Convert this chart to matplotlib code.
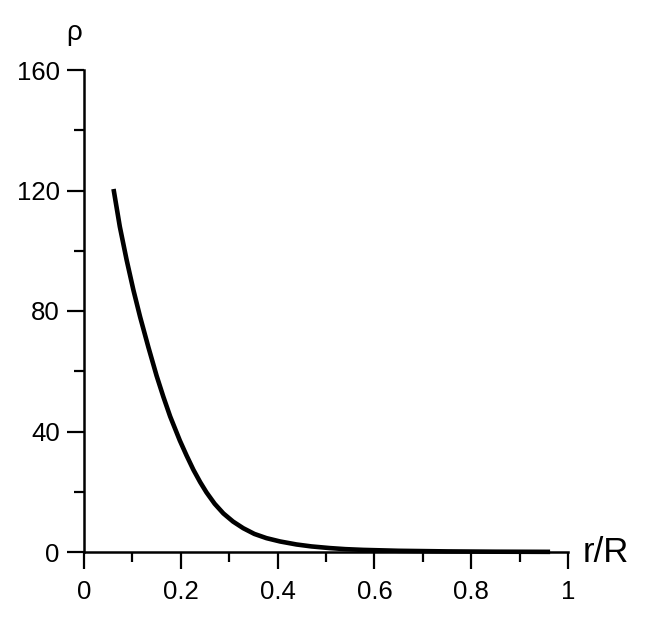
import matplotlib
matplotlib.use("Agg")
import matplotlib.pyplot as plt
from matplotlib.ticker import MultipleLocator

plt.rcParams['font.family'] = ['Liberation Sans', 'DejaVu Sans']

r_over_R = [0.061, 0.074, 0.088, 0.102, 0.116, 0.133, 0.150, 0.164, 0.178, 0.198,
            0.212, 0.226, 0.240, 0.253, 0.270, 0.288, 0.308, 0.329, 0.352, 0.377,
            0.405, 0.439, 0.470, 0.508, 0.540, 0.577, 0.650, 0.750, 0.850, 0.963]
rho = [120.5, 108.0, 97.0, 87.0, 78.0, 68.0, 58.5, 51.5, 45.0, 37.0,
       32.0, 27.3, 23.2, 19.8, 16.0, 12.8, 10.1, 7.9, 6.0, 4.6,
       3.5, 2.5, 1.85, 1.3, 0.95, 0.7, 0.4, 0.2, 0.1, 0.05]

x_ticks = [0, 0.2, 0.4, 0.6, 0.8, 1]
x_tick_labels = ["0", "0.2", "0.4", "0.6", "0.8", "1"]
y_ticks = [0, 40, 80, 120, 160]
y_tick_labels = ["0", "40", "80", "120", "160"]

fig = plt.figure(figsize=(6.54, 6.27), dpi=100)
ax = fig.add_axes([84/654, 1-552/627, (568-84)/654, (552-70)/627])

ax.plot(r_over_R, rho, color='black', lw=3.3, solid_capstyle='butt',
        solid_joinstyle='round', clip_on=False, zorder=3)

ax.set_xlim(0, 1)
ax.set_ylim(0, 160)
for s in ['top', 'right']:
    ax.spines[s].set_visible(False)
for s in ['left', 'bottom']:
    ax.spines[s].set_linewidth(1.8)

ax.set_xticks(x_ticks)
ax.set_xticklabels(x_tick_labels)
ax.set_yticks(y_ticks)
ax.set_yticklabels(y_tick_labels)
ax.xaxis.set_minor_locator(MultipleLocator(0.1))
ax.yaxis.set_minor_locator(MultipleLocator(20))
ax.tick_params(which='major', direction='out', length=12.5, width=1.6, labelsize=18.5, pad=8)
ax.tick_params(axis='y', which='major', pad=5)
ax.tick_params(which='minor', direction='out', length=7, width=1.6)

ax.text(1.03, 0, "r/R", transform=ax.transData,
        fontsize=25, ha='left', va='center', clip_on=False)
ax.text(-0.02, 1.05, "ρ", transform=ax.transAxes, fontsize=20, ha='center', va='bottom')

fig.savefig("out.png", dpi=100)
